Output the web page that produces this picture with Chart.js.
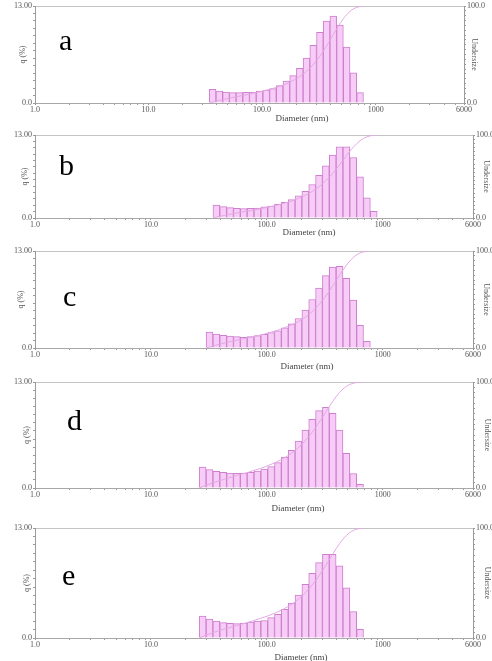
<!DOCTYPE html>
<html>
<head>
<meta charset="utf-8">
<script src="https://cdn.jsdelivr.net/npm/chart.js@4.4.1/dist/chart.umd.min.js"></script>
<style>
  html, body { margin: 0; padding: 0; background: #fff; }
  body { position: relative; width: 492px; height: 661px; overflow: hidden; font-family: 'Liberation Serif', 'Times New Roman', serif; }
  .panel { position: absolute; left: 0; width: 492px; }
  .letter { position: absolute; font-size: 30px; line-height: 30px; color: #000; }
  .xtitle { position: absolute; font-size: 9px; color: #444; transform: translate(-50%, -50%); white-space: nowrap; }
</style>
</head>
<body>
<div class="panel" style="top:0px;height:115px"><canvas id="chartA"></canvas></div>
<div class="panel" style="top:129px;height:101px"><canvas id="chartB"></canvas></div>
<div class="panel" style="top:245px;height:115px"><canvas id="chartC"></canvas></div>
<div class="panel" style="top:376px;height:124px"><canvas id="chartD"></canvas></div>
<div class="panel" style="top:522px;height:128px"><canvas id="chartE"></canvas></div>

<div class="letter" style="left:59px;top:25px">a</div>
<div class="letter" style="left:59px;top:150px">b</div>
<div class="letter" style="left:63px;top:281px">c</div>
<div class="letter" style="left:67px;top:405px">d</div>
<div class="letter" style="left:62px;top:560px">e</div>

<div class="xtitle" style="left:302px;top:118px">Diameter (nm)</div>
<div class="xtitle" style="left:309px;top:232px">Diameter (nm)</div>
<div class="xtitle" style="left:307px;top:366px">Diameter (nm)</div>
<div class="xtitle" style="left:298px;top:508px">Diameter (nm)</div>
<div class="xtitle" style="left:301px;top:657px">Diameter (nm)</div>

<script>
// size channels (nm): bar centres and channel edges
const binCentres = [27.94, 32.02, 36.67, 42.02, 48.13, 55.14, 63.17, 72.36, 82.89, 94.97,
  108.8, 124.6, 142.8, 163.6, 187.4, 214.6, 245.9, 281.7, 322.8, 369.7,
  423.5, 485.2, 555.8, 636.9, 729.6, 835.8];
const binEdges = [26.11, 29.91, 34.26, 39.25, 44.96, 51.51, 59.01, 67.60, 77.44, 88.73,
  101.6, 116.5, 133.4, 152.9, 175.1, 200.6, 229.8, 263.3, 301.6, 345.5,
  395.8, 453.4, 519.4, 595.0, 681.6, 780.8, 894.5];

// q (%) per channel, one array per sample
const qA = [null, null, 1.83, 1.6, 1.47, 1.38, 1.38, 1.43, 1.47, 1.6, 1.74, 1.92, 2.32, 2.95,
  3.66, 4.64, 6.03, 7.72, 9.46, 10.98, 11.65, 10.45, 7.5, 4.06, 1.38, null];
const qB = [null, null, 2.04, 1.78, 1.62, 1.52, 1.47, 1.52, 1.57, 1.73, 1.88, 2.15, 2.46, 2.88,
  3.46, 4.19, 5.24, 6.7, 8.17, 9.84, 11.15, 11.15, 9.48, 6.44, 3.14, 1.05];
const qC = [null, 2.15, 1.88, 1.70, 1.61, 1.52, 1.43, 1.52, 1.66, 1.84, 2.06, 2.29, 2.69, 3.23,
  3.95, 5.07, 6.5, 8.03, 9.69, 10.85, 10.94, 9.33, 6.41, 3.05, 0.9, null];
const qD = [2.58, 2.25, 2.04, 1.92, 1.84, 1.80, 1.84, 1.92, 2.09, 2.33, 2.62, 3.11, 3.80, 4.62,
  5.76, 7.11, 8.42, 9.48, 9.89, 9.16, 7.11, 4.25, 1.76, 0.45, null, null];
const qE = [2.6, 2.24, 2.01, 1.81, 1.73, 1.69, 1.77, 1.89, 2.01, 2.05, 2.4, 2.8, 3.39, 4.13,
  5.08, 6.34, 7.64, 8.9, 9.88, 9.88, 8.54, 5.94, 3.11, 1.02, null, null];

// cumulative undersize (%) at the channel edges
const underA = [null, null, 0, 1.9, 3.5, 5.0, 6.4, 7.8, 9.2, 10.7, 12.3, 14.1, 16.0, 18.4, 21.4,
  25.1, 29.8, 35.9, 43.7, 53.3, 64.5, 76.3, 86.9, 94.5, 98.6, 100, null];
const underB = [null, null, 0, 2.0, 3.7, 5.3, 6.8, 8.2, 9.7, 11.2, 12.9, 14.7, 16.8, 19.2, 22.0,
  25.4, 29.5, 34.6, 41.1, 49.1, 58.7, 69.5, 80.4, 89.6, 95.9, 99.0, 100];
const underC = [null, 0, 2.1, 4.0, 5.7, 7.3, 8.8, 10.3, 11.8, 13.4, 15.3, 17.3, 19.6, 22.3, 25.5,
  29.4, 34.5, 41.0, 49.0, 58.6, 69.5, 80.4, 89.7, 96.1, 99.1, 100, null];
const underD = [0, 2.6, 4.9, 7.0, 9.0, 10.8, 12.7, 14.5, 16.5, 18.6, 21.0, 23.7, 26.8, 30.7, 35.4,
  41.3, 48.5, 57.1, 66.8, 76.8, 86.2, 93.4, 97.7, 99.5, 100, null, null];
const underE = [0, 2.6, 4.9, 6.9, 8.8, 10.5, 12.2, 14.0, 15.9, 18.0, 20.0, 22.5, 25.3, 28.7, 32.9,
  38.0, 44.5, 52.2, 61.2, 71.2, 81.2, 89.8, 95.8, 99.0, 100, null, null];

// axis ticks
const xMajorTicks = [1, 10, 100, 1000, 6000];
const xTickLabels = ['1.0', '10.0', '100.0', '1000', '6000'];
const xMinorTicks = [2, 3, 4, 5, 6, 7, 8, 9, 20, 30, 40, 50, 60, 70, 80, 90,
  200, 300, 400, 500, 600, 700, 800, 900, 2000, 3000, 4000, 5000];
const qTicks = [0, 1, 2, 3, 4, 5, 6, 7, 8, 9, 10, 11, 12, 13];
const qTickLabels = { 0: '0.0', 13: '13.00' };
const underTicks = [0, 5, 10, 15, 20, 25, 30, 35, 40, 45, 50, 55, 60, 65, 70, 75, 80, 85, 90, 95, 100];
const underTickLabels = { 0: '0.0', 100: '100.0' };

const serif = "'Liberation Serif', 'Times New Roman', serif";
const tickFont = { family: serif, size: 8 };
const axisGrey = '#9a9a9a';
const labelGrey = '#555';

function makeChart(id, q, under, lay) {
  const xTicks = xMajorTicks.concat(xMinorTicks).sort((a, b) => a - b);
  return new Chart(document.getElementById(id), {
    type: 'bar',
    data: {
      datasets: [
        {
          type: 'line',
          data: binEdges.map((d, i) => ({ x: d, y: under[i] })),
          yAxisID: 'yU',
          borderColor: '#e3a9e3',
          borderWidth: 1,
          pointRadius: 0,
          cubicInterpolationMode: 'monotone',
          order: 0
        },
        {
          type: 'bar',
          data: binCentres.map((d, i) => ({ x: d, y: q[i] })),
          yAxisID: 'yQ',
          backgroundColor: '#f7cdf7',
          borderColor: '#cd7fcd',
          borderWidth: 1,
          barThickness: 'flex',
          categoryPercentage: 1,
          barPercentage: 1,
          order: 1
        }
      ]
    },
    options: {
      responsive: true,
      maintainAspectRatio: false,
      animation: false,
      layout: { padding: { top: 6, left: 0, right: 0, bottom: 0 } },
      plugins: { legend: { display: false }, tooltip: { enabled: false } },
      scales: {
        x: {
          type: 'logarithmic',
          min: 1,
          max: 6000,
          offset: false,
          afterBuildTicks: s => { s.ticks = xTicks.map(v => ({ value: v })); },
          afterFit: s => { s.height = 12; },
          ticks: {
            autoSkip: false,
            maxRotation: 0,
            padding: 0,
            color: labelGrey,
            font: tickFont,
            callback: v => {
              const i = xMajorTicks.indexOf(v);
              return i >= 0 ? xTickLabels[i] : '';
            }
          },
          grid: { drawOnChartArea: false, tickLength: 2, color: axisGrey, offset: false },
          border: { color: '#a8a8a8' }
        },
        xTop: {
          type: 'logarithmic',
          position: 'top',
          min: 1,
          max: 6000,
          offset: false,
          afterFit: s => { s.height = 0; },
          ticks: { display: false },
          grid: { display: false },
          border: { color: '#c4c4c4' }
        },
        yQ: {
          type: 'linear',
          position: 'left',
          min: 0,
          max: 13,
          afterBuildTicks: s => { s.ticks = qTicks.map(v => ({ value: v })); },
          afterFit: s => { s.width = 35; },
          ticks: {
            autoSkip: false,
            padding: 1,
            color: labelGrey,
            font: tickFont,
            callback: v => qTickLabels[v] || ''
          },
          grid: { drawOnChartArea: false, tickLength: 2, color: axisGrey },
          border: { color: axisGrey },
          title: {
            display: true,
            text: 'q (%)',
            color: labelGrey,
            font: { family: serif, size: 8 },
            padding: { top: lay.qPad, bottom: 0 }
          }
        },
        yU: {
          type: 'linear',
          position: 'right',
          min: 0,
          max: 100,
          afterBuildTicks: s => { s.ticks = underTicks.map(v => ({ value: v })); },
          afterFit: s => { s.width = lay.rightW; },
          ticks: {
            autoSkip: false,
            padding: 1,
            color: labelGrey,
            font: tickFont,
            callback: v => underTickLabels[v] || ''
          },
          grid: { drawOnChartArea: false, tickLength: 2, color: axisGrey },
          border: { color: axisGrey },
          title: {
            display: true,
            text: 'Undersize',
            color: labelGrey,
            font: { family: serif, size: 8 },
            padding: { top: lay.uPad, bottom: 0 }
          }
        }
      }
    }
  });
}

makeChart('chartA', qA, underA, { rightW: 28, qPad: 18, uPad: 13 });
makeChart('chartB', qB, underB, { rightW: 19, qPad: 20, uPad: 1 });
makeChart('chartC', qC, underC, { rightW: 19, qPad: 16, uPad: 1 });
makeChart('chartD', qD, underD, { rightW: 19, qPad: 22, uPad: 0 });
makeChart('chartE', qE, underE, { rightW: 19, qPad: 22, uPad: 0 });
</script>
</body>
</html>
